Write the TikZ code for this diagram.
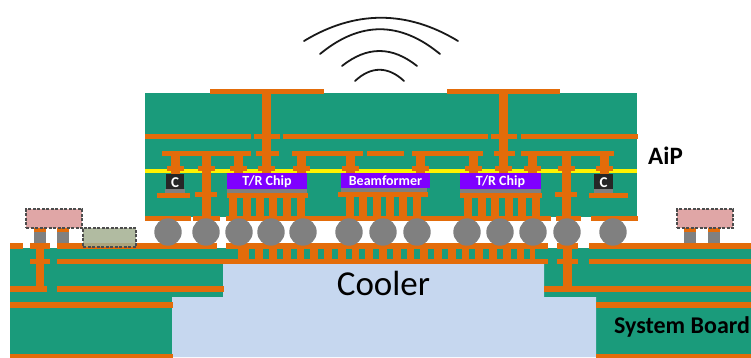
\documentclass[tikz,border=0pt]{standalone}
\usepackage{fontspec}
\setmainfont{Carlito}
\definecolor{cu}{HTML}{E36C0A}
\definecolor{brd}{HTML}{1A9B7B}
\definecolor{cool}{HTML}{C6D7EF}
\definecolor{chip}{HTML}{7F00FF}
\definecolor{ball}{HTML}{808080}
\definecolor{pinkc}{HTML}{E0A6A6}
\definecolor{olive}{HTML}{A3AF90}
\tikzset{
  part/.style={fill=#1,draw=black!70,dash pattern=on 3pt off 1.5pt,line width=1.3pt},
  wave/.style={draw=black!90,line width=1.8pt,line cap=round},
  chiptext/.style={text=white,font=\bfseries\fontsize{14}{14}\selectfont,inner sep=0pt},
  bigtext/.style={text=black,inner sep=0pt}
}
% \hb{x1}{x2}{y1}{y2}: copper rectangle
\newcommand{\hb}[4]{\filldraw[fill=cu,draw=cu,line width=.6pt] (#1,#3) rectangle (#2,#4);}
\begin{document}
\begin{tikzpicture}[x=1pt,y=-1pt]
\useasboundingbox (0,0) rectangle (751,357);
% lower board and cooler
\fill[brd] (10,248) -- (10,357) -- (172,357) -- (172,297) -- (223,297) -- (223,263) -- (544,263) -- (544,297) -- (596,297) -- (596,357) -- (751,357) -- (751,248) -- cycle;
\fill[cool] (223,263) -- (544,263) -- (544,297) -- (596,297) -- (596,357) -- (172,357) -- (172,297) -- (223,297) -- cycle;
% lower board copper
\foreach \a/\b in {10/22,30/49,57/216,226/547,557/577,589/751} {\hb{\a}{\b}{243}{248}}
\fill[cu] (238,248) rectangle (535,260);
\foreach \i in {0,...,20} {\fill[brd] ({249.3+13.75*\i},248.5) rectangle ({255.3+13.75*\i},258.5);}
\foreach \a/\b in {30/49,57/240,227/547,557/577,589/751} {\hb{\a}{\b}{259}{263}}
\foreach \a/\b in {10/46,57/223,544/751} {\hb{\a}{\b}{286}{291}}
\foreach \a/\b in {10/172,596/751} {\hb{\a}{\b}{302}{307}\hb{\a}{\b}{354.5}{357}}
\hb{36}{43}{248}{287}
\hb{563}{571}{217}{287}
% surface parts on the lower board
\foreach \a in {34,57,684,708} {
  \hb{\a}{\a+11.5}{228}{232}
  \fill[ball] (\a,232) rectangle (\a+11.5,243);
}
\node[part=pinkc,minimum width=56pt,minimum height=19pt,inner sep=0pt] (partL) at (54,218.5) {};
\node[part=pinkc,minimum width=56pt,minimum height=19pt,inner sep=0pt] (partR) at (705,218.5) {};
\hb{83}{99}{243}{247}
\hb{115}{136}{243}{247}
\node[part=olive,fill opacity=.85,minimum width=53pt,minimum height=19pt,inner sep=0pt] (partM) at (109.5,237.5) {};
% AiP board
\fill[brd] (145,93) rectangle (637,217);
\foreach \a/\b in {210/323,447/559} {\hb{\a}{\b}{89}{93}}
\foreach \a/\b in {145/250,254/279,283/487,491/516,521/637} {\hb{\a}{\b}{134}{138}}
\foreach \a/\b in {162/250,256/278,292/362,367/403,412/482,494/514,521/613} {\hb{\a}{\b}{151}{155}}
% yellow layer
\fill[yellow] (145,169) rectangle (637,173);
% vias
\foreach \c in {175,238,301,350,420,473,532,604} {
  \hb{\c-4}{\c+4}{155}{173}
  \hb{\c-8}{\c+8}{166}{170}
}
\foreach \c in {266,503} {
  \hb{\c-4}{\c+4}{93}{173}
  \hb{\c-8}{\c+8}{166}{170}
}
\foreach \c in {206,566} {
  \hb{\c-4}{\c+4}{155}{220}
  \hb{\c-8}{\c+8}{166}{170}
  \hb{\c-10.5}{\c+10.5}{192}{196}
}
% chips
\fill[chip] (227,173) rectangle (307,189);
\fill[ball] (227,189) rectangle (307,193);
\hb{227}{307}{193}{197}
\fill[chip] (341,173) rectangle (430,188);
\fill[ball] (341,188) rectangle (427,192);
\hb{338}{427}{192}{196}
\fill[chip] (460,173) rectangle (541,189);
\fill[ball] (460,189) rectangle (541,193);
\hb{460}{541}{193}{197}
\foreach \c in {233,247,260,273,287,301,350,363,377,390,403,417,468,482,495,509,522,536} {\hb{\c-3.5}{\c+3.5}{196}{217}}
\foreach \a/\b in {145/190,193/219,226/550,556/580,591/637} {\hb{\a}{\b}{216}{220}}
\node[chiptext] (tr1) at (267,181.5) {T/R Chip};
\node[chiptext] (bf) at (385.5,180.5) {Beamformer};
\node[chiptext] (tr2) at (500.5,181.5) {T/R Chip};
% capacitors
\fill[black!85] (166,174) rectangle (184,189);
\fill[ball] (165,189) rectangle (185,193);
\hb{157}{189}{193}{197}
\fill[black!85] (594,174) rectangle (613,189);
\fill[ball] (594,189) rectangle (613,193);
\hb{589}{627}{193}{197}
\node[text=white,font=\bfseries\fontsize{15}{15}\selectfont,inner sep=0pt] (c1) at (175,183) {C};
\node[text=white,font=\bfseries\fontsize{15}{15}\selectfont,inner sep=0pt] (c2) at (603.5,183) {C};
% solder balls
\foreach \c in {168,206,239,271,303,349,383,417,467,500,533,567,613} {\fill[ball] (\c,232) circle (13.7);}
% waves
\draw[wave] (355,81) .. controls (371,66) and (388,66) .. (404,81);
\draw[wave] (342,66) .. controls (367,46) and (392,46) .. (417,66);
\draw[wave] (320,54) .. controls (360,21) and (400,21) .. (440,54);
\draw[wave] (304,41) .. controls (355,10) and (407,10) .. (458,41);
% labels
\node[bigtext,font=\bfseries\fontsize{25}{25}\selectfont] (aip) at (665.5,156) {AiP};
\node[bigtext,font=\fontsize{35}{35}\selectfont] (cooler) at (383.5,283) {Cooler};
\node[bigtext,font=\bfseries\fontsize{24}{24}\selectfont] (sys) at (682,327) {System Board};
\end{tikzpicture}
\end{document}
